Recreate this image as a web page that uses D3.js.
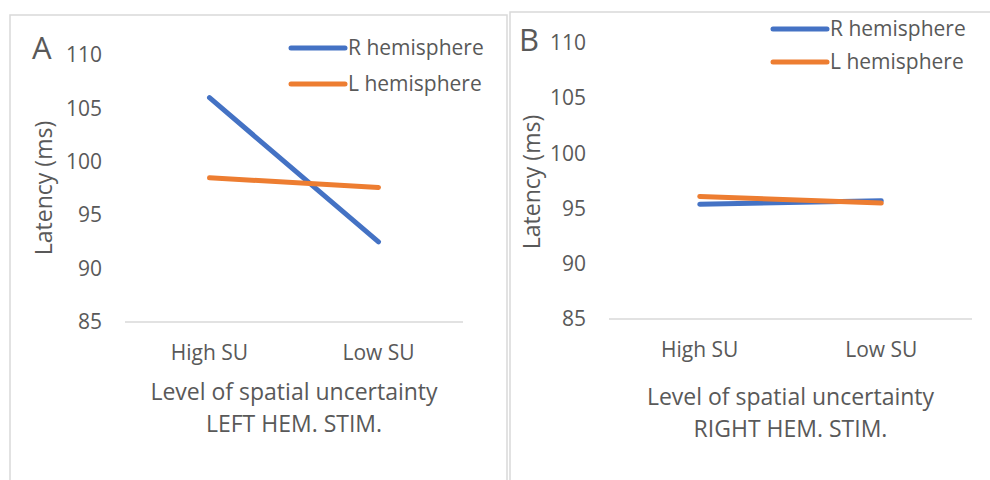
<!DOCTYPE html>
<html>
<head>
<meta charset="utf-8">
<script src="https://cdn.jsdelivr.net/npm/d3@7"></script>
<style>
  body { margin: 0; background: #fff; }
  svg text { font-family: "Open Sans", sans-serif; fill: #595959; }
</style>
</head>
<body>
<svg id="chart" width="990" height="480"></svg>
<script>
// data
var categories = ['High SU', 'Low SU'];
var yTicks = [85, 90, 95, 100, 105, 110];
var seriesNames = ['R hemisphere', 'L hemisphere'];
var seriesColors = ['#4472C4', '#ED7D31'];

// panel A: left hemisphere stimulation
var leftR = [106.0, 92.5];
var leftL = [98.5, 97.6];
// panel B: right hemisphere stimulation
var rightR = [95.4, 95.7];
var rightL = [96.1, 95.5];

var svg = d3.select('#chart');
var fs = 21;      // ticks, legend
var titleFs = 23; // axis titles

// one chart box, Excel style
function drawPanel(p){
	var g = svg.append('g');

	// outer frame
	g.append('rect')
		.attr('x', p.box[0]).attr('y', p.box[1])
		.attr('width', p.box[2]).attr('height', p.box[3])
		.attr('fill', 'none')
		.attr('stroke', '#d9d9d9')
		.attr('stroke-width', 1.5);

	var x = d3.scaleBand().domain(categories).range([p.left, p.right]);
	var y = d3.scaleLinear().domain([85, 110]).range([p.bottom, p.top]);

	// only the baseline gridline is drawn
	g.append('line')
		.attr('x1', p.left).attr('x2', p.right)
		.attr('y1', y(85)).attr('y2', y(85))
		.attr('stroke', '#d9d9d9')
		.attr('stroke-width', 1.5);

	var yAxis = d3.axisLeft(y).tickValues(yTicks).tickSize(0).tickPadding(0);
	var ya = g.append('g')
		.attr('transform', 'translate(' + p.tickX + ',0)')
		.call(yAxis);
	ya.select('.domain').remove();
	ya.selectAll('text')
		.style('font-size', fs + 'px')
		.style('font-family', '"Open Sans", sans-serif')
		.attr('fill', '#595959');

	var xAxis = d3.axisBottom(x).tickSize(0).tickPadding(0);
	var xa = g.append('g')
		.attr('transform', 'translate(0,' + (y(85) + 23) + ')')
		.call(xAxis);
	xa.select('.domain').remove();
	xa.selectAll('text')
		.style('font-size', fs + 'px')
		.style('font-family', '"Open Sans", sans-serif')
		.attr('fill', '#595959');

	// series lines
	var line = d3.line()
		.x(function(d, i){ return x(categories[i]) + x.bandwidth() / 2; })
		.y(function(d){ return y(d); });

	p.series.forEach(function(s, i){
		g.append('path')
			.datum(s)
			.attr('d', line)
			.attr('fill', 'none')
			.attr('stroke', seriesColors[i])
			.attr('stroke-width', 5)
			.attr('stroke-linecap', 'round');
	});

	// legend
	seriesNames.forEach(function(name, i){
		var ly = p.legendY + i * p.legendGap;
		g.append('line')
			.attr('x1', p.legendX).attr('x2', p.legendX + 54)
			.attr('y1', ly).attr('y2', ly)
			.attr('stroke', seriesColors[i])
			.attr('stroke-width', 5)
			.attr('stroke-linecap', 'round');
		g.append('text')
			.attr('x', p.legendX + 57)
			.attr('y', ly)
			.attr('dy', '0.35em')
			.style('font-size', fs + 'px')
			.text(name);
	});

	// panel letter
	g.append('text')
		.attr('x', p.letterX).attr('y', p.letterY)
		.style('font-size', '31px')
		.text(p.letter);

	// y title
	g.append('text')
		.attr('transform', 'translate(' + p.yTitleX + ',' + p.yTitleY + ') rotate(-90)')
		.attr('text-anchor', 'middle')
		.attr('dy', '0.35em')
		.style('font-size', titleFs + 'px')
		.text('Latency (ms)');

	// x title, two lines
	var mid = (p.left + p.right) / 2;
	g.append('text')
		.attr('x', mid).attr('y', p.titleY)
		.attr('text-anchor', 'middle')
		.attr('dy', '0.35em')
		.style('font-size', titleFs + 'px')
		.text('Level of spatial uncertainty');
	g.append('text')
		.attr('x', mid).attr('y', p.titleY + 32)
		.attr('text-anchor', 'middle')
		.attr('dy', '0.35em')
		.style('font-size', titleFs + 'px')
		.text(p.subtitle);
}

drawPanel({
	box: [10, 15, 497, 480],
	left: 125, right: 463, top: 55, bottom: 322,
	tickX: 102,
	series: [leftR, leftL],
	legendX: 291, legendY: 48, legendGap: 36,
	letter: 'A', letterX: 32, letterY: 59,
	yTitleX: 44, yTitleY: 188,
	titleY: 392,
	subtitle: 'LEFT HEM. STIM.'
});

drawPanel({
	box: [510, 12, 490, 480],
	left: 609, right: 972, top: 43, bottom: 319,
	tickX: 586,
	series: [rightR, rightL],
	legendX: 773, legendY: 29, legendGap: 33,
	letter: 'B', letterX: 519, letterY: 51,
	yTitleX: 532, yTitleY: 182,
	titleY: 397,
	subtitle: 'RIGHT HEM. STIM.'
});
</script>
</body>
</html>
